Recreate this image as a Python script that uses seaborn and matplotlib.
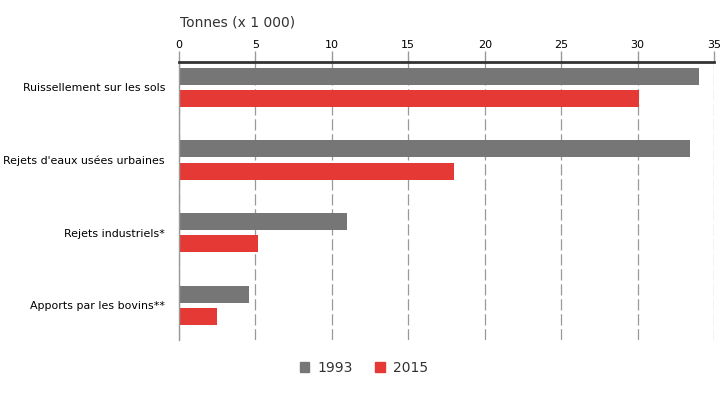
import matplotlib
matplotlib.use("Agg")
import matplotlib.pyplot as plt
from matplotlib.patches import Patch
import seaborn as sns
import pandas as pd

sns.set_style("white")
plt.rcParams['font.family'] = ['DejaVu Sans']

categories = ["Ruissellement sur les sols", "Rejets d'eaux usées urbaines",
              "Rejets industriels*", "Apports par les bovins**"]
values_1993 = [34.0, 33.4, 11.0, 4.55]
values_2015 = [30.1, 18.0, 5.2, 2.5]
years = ["1993", "2015"]
colors = ["#767676", "#e53935"]

df = pd.DataFrame({
    "cat": categories * 2,
    "year": [years[0]] * 4 + [years[1]] * 4,
    "val": values_1993 + values_2015,
})

fig = plt.figure(figsize=(7.25, 4), dpi=100)
ax = fig.add_axes([179 / 725, 1 - 340 / 400, (714 - 179) / 725, (340 - 62) / 400])

sns.barplot(data=df, y="cat", x="val", hue="year", orient="h",
            palette=colors, width=0.61, gap=0.23, saturation=1,
            linewidth=0, edgecolor="none", legend=False, ax=ax)

ax.set_xlim(0, 35)
ax.set_ylim(3.48, -0.35)
ax.set_xticks(range(0, 36, 5))
ax.xaxis.tick_top()
ax.xaxis.set_label_position("top")
ax.tick_params(axis="x", length=8, width=1, color="#999999", labelsize=8, pad=1,
               labelcolor="black")
ax.tick_params(axis="y", length=0, labelsize=7.9, pad=10, labelcolor="black")
ax.set_xlabel("")
ax.set_ylabel("")
ax.grid(axis="x", color="#999999", linestyle=(0, (9, 3)), linewidth=0.9)
ax.set_axisbelow(True)

for s in ["right", "bottom"]:
    ax.spines[s].set_visible(False)
ax.spines["top"].set_color("#333333")
ax.spines["top"].set_linewidth(2)
ax.spines["left"].set_color("#999999")
ax.spines["left"].set_linewidth(1)

fig.text(180 / 725, 1 - 23 / 400, "Tonnes (x 1 000)", fontsize=10, color="#333333",
         va="center", ha="left")

handles = [Patch(color=c, label=y) for c, y in zip(colors, years)]
fig.legend(handles=handles, loc="center", bbox_to_anchor=(364 / 725, 1 - 368 / 400),
           ncol=2, frameon=False, fontsize=10, handlelength=0.7, handleheight=0.7,
           handletextpad=0.6, columnspacing=1.6, labelcolor="#333333")

plt.savefig("out.png", dpi=100)
